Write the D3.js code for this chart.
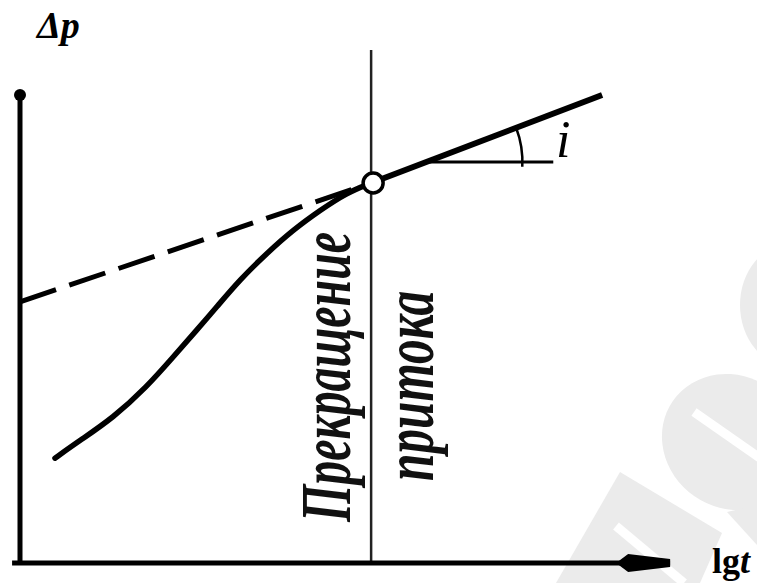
<!DOCTYPE html>
<html>
<head>
<meta charset="utf-8">
<script src="https://cdn.jsdelivr.net/npm/d3@7"></script>
<style>
  body { margin: 0; background: #fff; }
  svg { display: block; }
</style>
</head>
<body>
<script>

// curve of pressure build-up (lg t, delta p)
var curveX = [0.53, 0.91, 1.41, 1.92, 2.32, 2.68, 2.98, 3.33, 3.74, 4.14, 4.55, 4.95, 5.32];
var curveY = [2.24, 2.62, 3.10, 3.76, 4.40, 4.98, 5.47, 6.05, 6.62, 7.12, 7.54, 7.91, 8.12];

// straight (dashed) extrapolation to the delta p axis
var dashedX = [0, 5.32];
var dashedY = [5.58, 8.12];

// straight part after the stop of inflow
var tangentX = [5.32, 8.82];
var tangentY = [8.12, 10.0];

// horizontal reference for the slope angle i
var horizX = [6.2, 8.08];
var horizY = [8.57, 8.57];

// moment of the stop of inflow
var stopX = 5.32;
var stopY = 8.12;
var stopTop = 10.96;

// axis extent
var axisX = [-0.12, 9.85];
var axisY = [0, 10];

var labels = {
  y: "Δp",
  left: "Прекращение",
  right: "притока",
  angle: "i"
};

var width = 757,
    height = 583;

var svg = d3.select("body")
            .append("svg")
            .attr("width", width)
            .attr("height", height);

// faint watermark of the scan
var wm = svg.append("g").attr("fill", "#ebebeb");
wm.append("path").attr("d", "M556,583 L620,472 L722,533 L700,583 Z");
wm.append("line").attr("x1", 616).attr("y1", 526).attr("x2", 684).attr("y2", 583)
  .attr("stroke", "#fff").attr("stroke-width", 9);
wm.append("ellipse").attr("cx", 732).attr("cy", 442).attr("rx", 72).attr("ry", 66)
  .attr("transform", "rotate(35,732,442)");
wm.append("line").attr("x1", 694).attr("y1", 412).attr("x2", 760).attr("y2", 458)
  .attr("stroke", "#fff").attr("stroke-width", 9);
wm.append("ellipse").attr("cx", 792).attr("cy", 305).attr("rx", 52).attr("ry", 62);
wm.append("path").attr("d", "M727,512 L757,505 L757,545 Z");

// scales
var xScale = d3.scaleLinear().domain([0, 10]).range([20, 680]);
var yScale = d3.scaleLinear().domain([0, 10]).range([563, 95]);

var line = d3.line()
             .x(function(d) { return xScale(d[0]); })
             .y(function(d) { return yScale(d[1]); });

var curve = d3.line()
              .x(function(d) { return xScale(d[0]); })
              .y(function(d) { return yScale(d[1]); })
              .curve(d3.curveBasis);

function pairs(xs, ys) {
  return xs.map(function(x, i) { return [x, ys[i]]; });
}

// vertical line: stop of inflow
svg.append("line")
   .attr("x1", xScale(stopX)).attr("x2", xScale(stopX))
   .attr("y1", yScale(0)).attr("y2", yScale(stopTop))
   .attr("stroke", "#222")
   .attr("stroke-width", 2.5);

// y axis with the dot on top
svg.append("line")
   .attr("x1", xScale(0)).attr("x2", xScale(0))
   .attr("y1", yScale(axisY[0]) + 2).attr("y2", yScale(axisY[1]))
   .attr("stroke", "#000")
   .attr("stroke-width", 5);
svg.append("circle")
   .attr("cx", xScale(0)).attr("cy", yScale(axisY[1]))
   .attr("r", 6).attr("fill", "#000");

// x axis with arrow
var ax0 = xScale(axisX[0]), ax1 = xScale(axisX[1]), ay = yScale(0);
svg.append("line")
   .attr("x1", ax0).attr("x2", ax1)
   .attr("y1", ay).attr("y2", ay)
   .attr("stroke", "#000")
   .attr("stroke-width", 5);
svg.append("path")
   .attr("d", "M" + (ax1 - 54) + "," + ay +
              " L" + (ax1 - 42) + "," + (ay - 9) +
              " L" + ax1 + "," + (ay - 4) +
              " L" + ax1 + "," + (ay + 4) +
              " L" + (ax1 - 42) + "," + (ay + 9) + " Z")
   .attr("fill", "#000");

// dashed extrapolation
svg.append("path")
   .attr("d", line(pairs(dashedX, dashedY)))
   .attr("fill", "none")
   .attr("stroke", "#000")
   .attr("stroke-width", 5)
   .attr("stroke-dasharray", "38,14");

// solid build-up curve
svg.append("path")
   .attr("d", curve(pairs(curveX, curveY)))
   .attr("fill", "none")
   .attr("stroke", "#000")
   .attr("stroke-width", 5.5)
   .attr("stroke-linecap", "round");

// straight part
svg.append("path")
   .attr("d", line(pairs(tangentX, tangentY)))
   .attr("fill", "none")
   .attr("stroke", "#000")
   .attr("stroke-width", 6);

// horizontal reference
svg.append("path")
   .attr("d", line(pairs(horizX, horizY)))
   .attr("fill", "none")
   .attr("stroke", "#000")
   .attr("stroke-width", 3);

// angle arc, centred where the horizontal meets the straight part
var tx0 = xScale(tangentX[0]), ty0 = yScale(tangentY[0]),
    tx1 = xScale(tangentX[1]), ty1 = yScale(tangentY[1]);
var slope = (ty1 - ty0) / (tx1 - tx0);
var hy = yScale(horizY[0]);
var cx = tx0 + (hy - ty0) / slope;
var r = 96;
var ang = Math.atan(slope);
var arc = d3.path();
arc.arc(cx, hy, r, ang, 0.05, false);
svg.append("path")
   .attr("d", arc.toString())
   .attr("fill", "none")
   .attr("stroke", "#000")
   .attr("stroke-width", 2.5);

// open circle at the stop point
svg.append("circle")
   .attr("cx", xScale(stopX) + 2).attr("cy", yScale(stopY))
   .attr("r", 10)
   .attr("fill", "#fff")
   .attr("stroke", "#000")
   .attr("stroke-width", 3.5);

// angle label
svg.append("text")
   .attr("x", 556).attr("y", 157)
   .style("font-family", "'Liberation Serif', serif")
   .style("font-style", "italic")
   .style("font-size", "52px")
   .text(labels.angle);

// axis titles
svg.append("text")
   .attr("x", 37).attr("y", 38)
   .style("font-family", "'Liberation Serif', serif")
   .style("font-style", "italic")
   .style("font-weight", "bold")
   .style("font-size", "38px")
   .text(labels.y);

var xt = svg.append("text")
            .attr("x", 712).attr("y", 573)
            .style("font-family", "'Liberation Serif', serif")
            .style("font-weight", "bold")
            .style("font-size", "36px");
xt.append("tspan").text("lg");
xt.append("tspan").style("font-style", "italic").text("t");

// rotated notes along the vertical line
svg.append("text")
   .attr("transform", "translate(350,522) rotate(-90)")
   .attr("textLength", 290)
   .attr("lengthAdjust", "spacingAndGlyphs")
   .style("font-family", "'Liberation Serif', serif")
   .style("font-style", "italic")
   .style("font-weight", "bold")
   .style("font-size", "72px")
   .style("fill", "#111")
   .text(labels.left);

svg.append("text")
   .attr("transform", "translate(433,481) rotate(-90)")
   .attr("textLength", 190)
   .attr("lengthAdjust", "spacingAndGlyphs")
   .style("font-family", "'Liberation Serif', serif")
   .style("font-style", "italic")
   .style("font-weight", "bold")
   .style("font-size", "72px")
   .style("fill", "#111")
   .text(labels.right);

</script>
</body>
</html>
